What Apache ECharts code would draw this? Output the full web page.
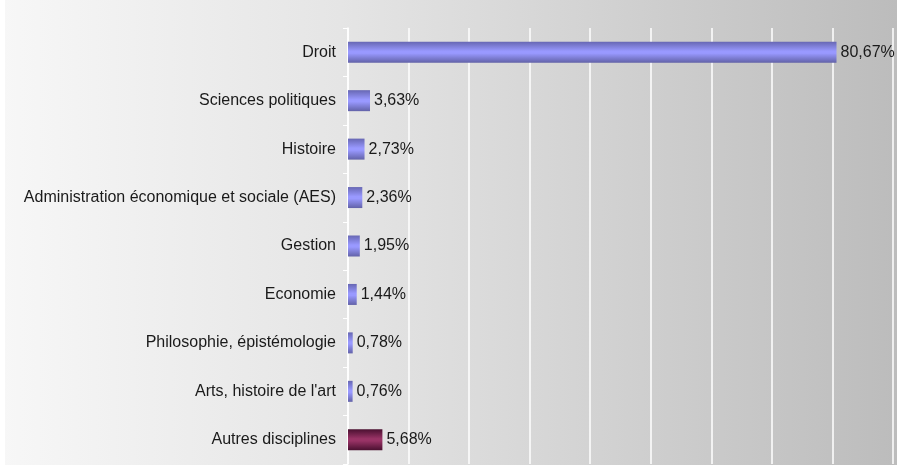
<!DOCTYPE html>
<html><head><meta charset="utf-8">
<script src="https://cdn.jsdelivr.net/npm/echarts@6/dist/echarts.min.js"></script>
<style>html,body{margin:0;padding:0;background:#fff}#c{width:897px;height:467px}</style>
</head><body><div id="c"></div>
<script>
const categories = ["Droit","Sciences politiques","Histoire","Administration économique et sociale (AES)","Gestion","Economie","Philosophie, épistémologie","Arts, histoire de l'art","Autres disciplines"];
const values = [80.67,3.63,2.73,2.36,1.95,1.44,0.78,0.76,5.68];
const highlight = [false,false,false,false,false,false,false,false,true];
const xMin = 0, xMax = 90, xInterval = 10;

const G = echarts.graphic.LinearGradient;
const blue = new G(0,0,0,1,[{offset:0,color:'#6767b3'},{offset:0.45,color:'#9999ff'},{offset:0.55,color:'#9999ff'},{offset:1,color:'#6262a8'}]);
const maroon = new G(0,0,0,1,[{offset:0,color:'#4a1030'},{offset:0.45,color:'#993366'},{offset:0.55,color:'#993366'},{offset:1,color:'#4a1030'}]);

const chart = echarts.init(document.getElementById('c'));
chart.setOption({
  backgroundColor: new G(0,0,1,0,[{offset:0,color:'#f7f7f7'},{offset:0.38,color:'#e5e5e5'},{offset:0.67,color:'#d2d2d2'},{offset:1,color:'#bcbcbc'}]),
  animation:false,
  graphic:[
    {type:'rect',left:0,top:0,shape:{width:5,height:467},style:{fill:'#fff'},silent:true},
    {type:'rect',left:0,top:465,shape:{width:897,height:2},style:{fill:'#fff'},silent:true}
  ],
  grid:{left:348,right:4,top:28,bottom:3,containLabel:false},
  xAxis:{type:'value',min:xMin,max:xMax,interval:xInterval,
    axisLabel:{show:false},axisLine:{show:false},axisTick:{show:false},
    splitLine:{show:true,lineStyle:{color:'#ffffff',width:1.5}}},
  yAxis:{type:'category',data:categories,inverse:true,
    axisLine:{show:true,lineStyle:{color:'#ffffff',width:1.5}},
    axisTick:{show:true,length:5,lineStyle:{color:'#ffffff'}},
    axisLabel:{margin:12,color:'#1a1a1a',fontSize:16,fontFamily:'Liberation Sans, Arial, sans-serif'}},
  series:[{type:'bar',barWidth:21,
    data:values.map((v,i)=>({value:v,itemStyle:{color:highlight[i]?maroon:blue}})),
    label:{show:true,position:'right',distance:4,color:'#1a1a1a',fontSize:16,fontFamily:'Liberation Sans, Arial, sans-serif',
      formatter:p=>p.value.toFixed(2).replace('.',',')+'%'}}]
});
</script></body></html>
